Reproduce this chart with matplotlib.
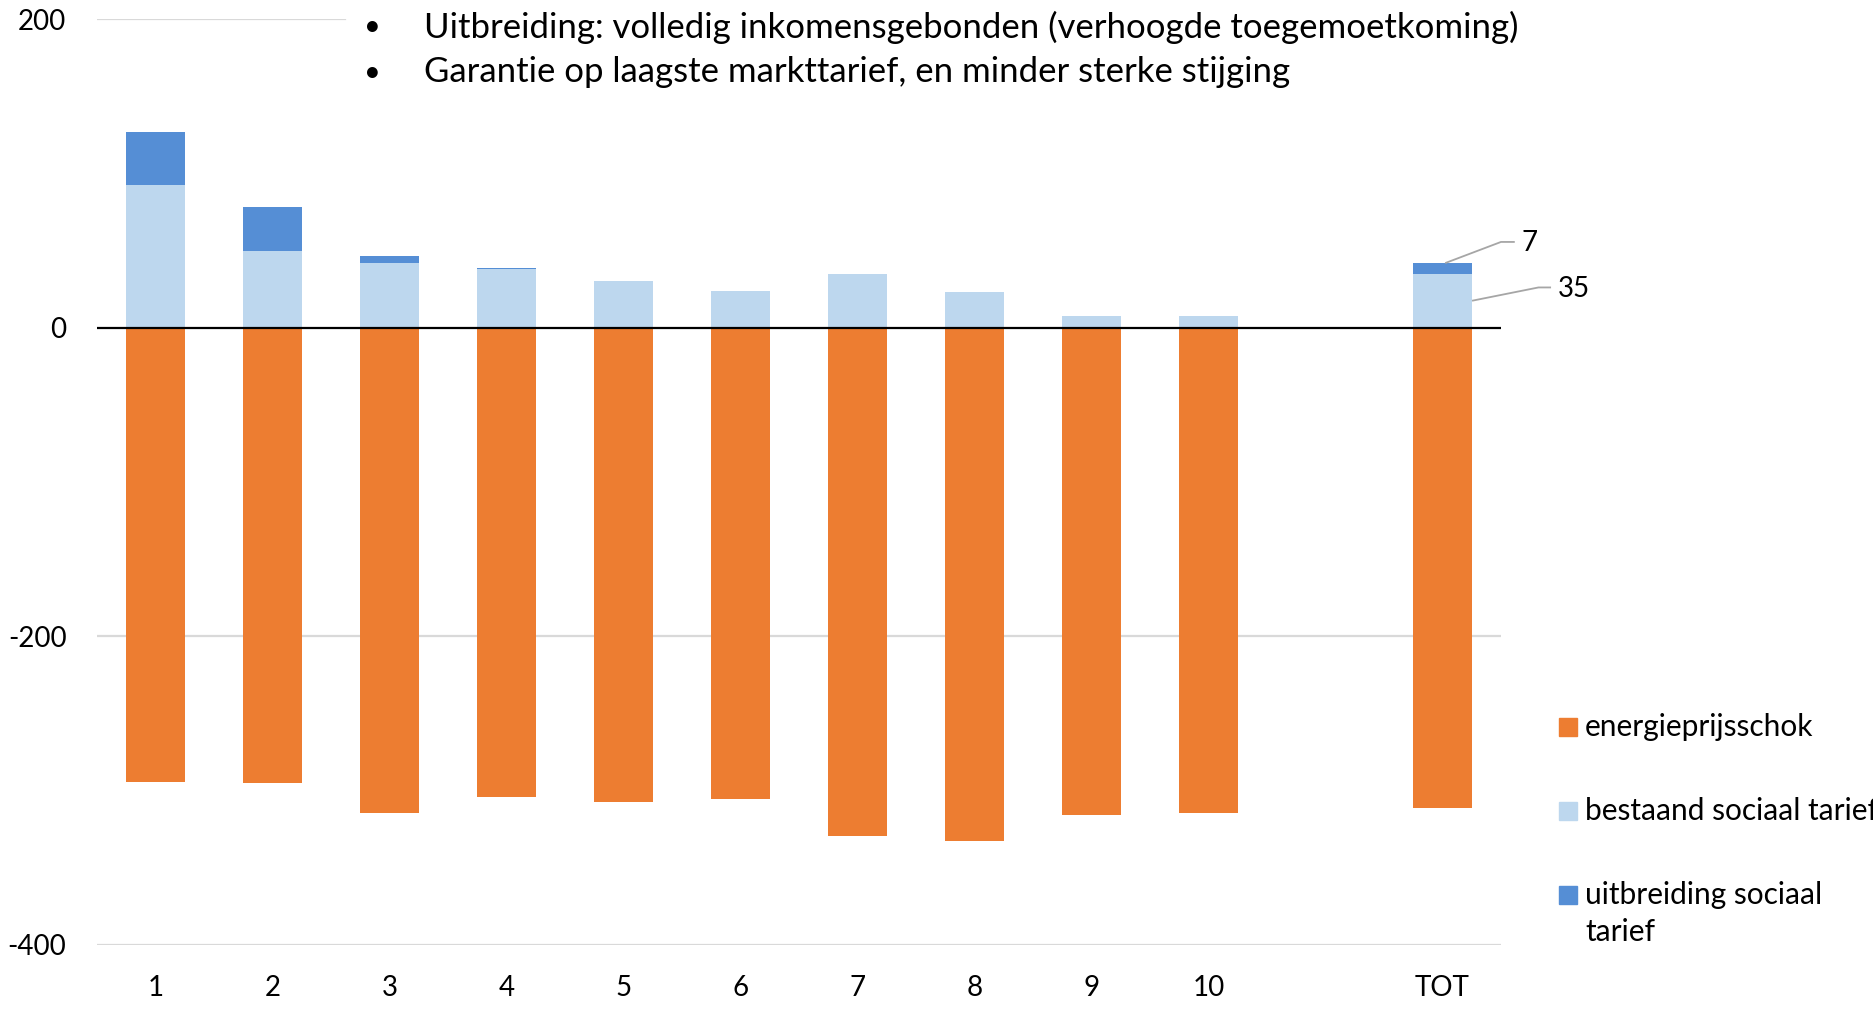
import matplotlib.pyplot as plt
from matplotlib.patches import Rectangle

plt.rcParams['font.family'] = ['Lato', 'DejaVu Sans']
plt.rcParams['axes.unicode_minus'] = False

# data
categories = ['1', '2', '3', '4', '5', '6', '7', '8', '9', '10', 'TOT']
energieprijsschok = [-294.4, -295.0, -314.9, -304.1, -307.7, -305.8, -329.8, -332.6, -316.0, -314.7, -311.6]
bestaand = [92.2, 49.6, 41.6, 37.7, 29.9, 23.4, 34.7, 22.8, 7.2, 7.5, 35]
uitbreiding = [34.7, 28.7, 4.9, 1.1, 0.4, 0.2, 0.3, 0.2, 0.2, 0.3, 7]
legend_labels = ['energieprijsschok', 'bestaand sociaal tarief', 'uitbreiding sociaal\ntarief']
bullets = ['Uitbreiding: volledig inkomensgebonden (verhoogde toegemoetkoming)',
           'Garantie op laagste markttarief, en minder sterke stijging']

c_orange = '#ED7D31'
c_light = '#BDD7EE'
c_dark = '#558ED5'
colors = [c_orange, c_light, c_dark]

W, H = 1874, 1009
fig = plt.figure(figsize=(W / 100, H / 100), dpi=100)
ax = fig.add_axes([97 / W, 1 - 944.7 / H, (1501 - 97) / W, (944.7 - 19) / H])

# TOT sits one empty slot after category 10
xpos = list(range(10)) + [11]
width = 0.5

ax.bar(xpos, energieprijsschok, width, color=c_orange, zorder=3)
ax.bar(xpos, bestaand, width, color=c_light, zorder=3)
ax.bar(xpos, uitbreiding, width, bottom=bestaand, color=c_dark, zorder=3)

ax.set_xlim(-0.5, 11.5)
ax.set_ylim(-400, 200)
ax.set_yticks([-400, -200, 0, 200])
ax.set_xticks(xpos)
ax.set_xticklabels(categories)
ax.tick_params(axis='both', length=0, labelsize=20, colors='black')
ax.tick_params(axis='x', pad=22)
ax.tick_params(axis='y', pad=22)
for s in ax.spines.values():
    s.set_visible(False)

# gridlines (the top one is hidden behind the text box)
ax.axhline(-400, color='#d9d9d9', lw=1.6, zorder=1)
ax.axhline(-200, color='#d9d9d9', lw=1.6, zorder=1)
ax.axhline(200, xmax=(345 - 97) / (1501 - 97), color='#d9d9d9', lw=1.6, zorder=1)
ax.axhline(0, color='black', lw=1.6, zorder=4)

# leader labels on the TOT bar
xt = xpos[-1]
top = bestaand[-1] + uitbreiding[-1]
ax.plot([xt + 0.03, xt + 0.5, xt + 0.61], [top, top + 13.5, top + 13.5],
        color='#a6a6a6', lw=1.3, clip_on=False, zorder=5)
ax.text(xt + 0.675, top + 13, '%d' % uitbreiding[-1], fontsize=20,
        va='center', ha='left', clip_on=False)
mid = bestaand[-1] / 2
ax.plot([xt + 0.26, xt + 0.82, xt + 0.92], [mid, mid + 8.5, mid + 8.5],
        color='#a6a6a6', lw=1.3, clip_on=False, zorder=5)
ax.text(xt + 0.99, mid + 7.5, '%d' % bestaand[-1], fontsize=20,
        va='center', ha='left', clip_on=False)

# bullet text box
for i, b in enumerate(bullets):
    yy = 1 - (27 + 45.5 * i) / H
    fig.text(372 / W, yy, '\u2022', fontsize=21, va='center', ha='center')
    fig.text(424 / W, yy, b, fontsize=25, va='center', ha='left')

# legend
for i, (lab, col) in enumerate(zip(legend_labels, colors)):
    yc = 726.7 + 84 * i
    fig.patches.append(Rectangle((1559 / W, 1 - (yc + 9) / H), 18 / W, 18 / H,
                                 transform=fig.transFigure, color=col))
    for j, line in enumerate(lab.split('\n')):
        fig.text(1585 / W, 1 - (yc + 37.7 * j) / H, line, fontsize=21.5,
                 va='center', ha='left')

fig.savefig('out.png', dpi=100)
